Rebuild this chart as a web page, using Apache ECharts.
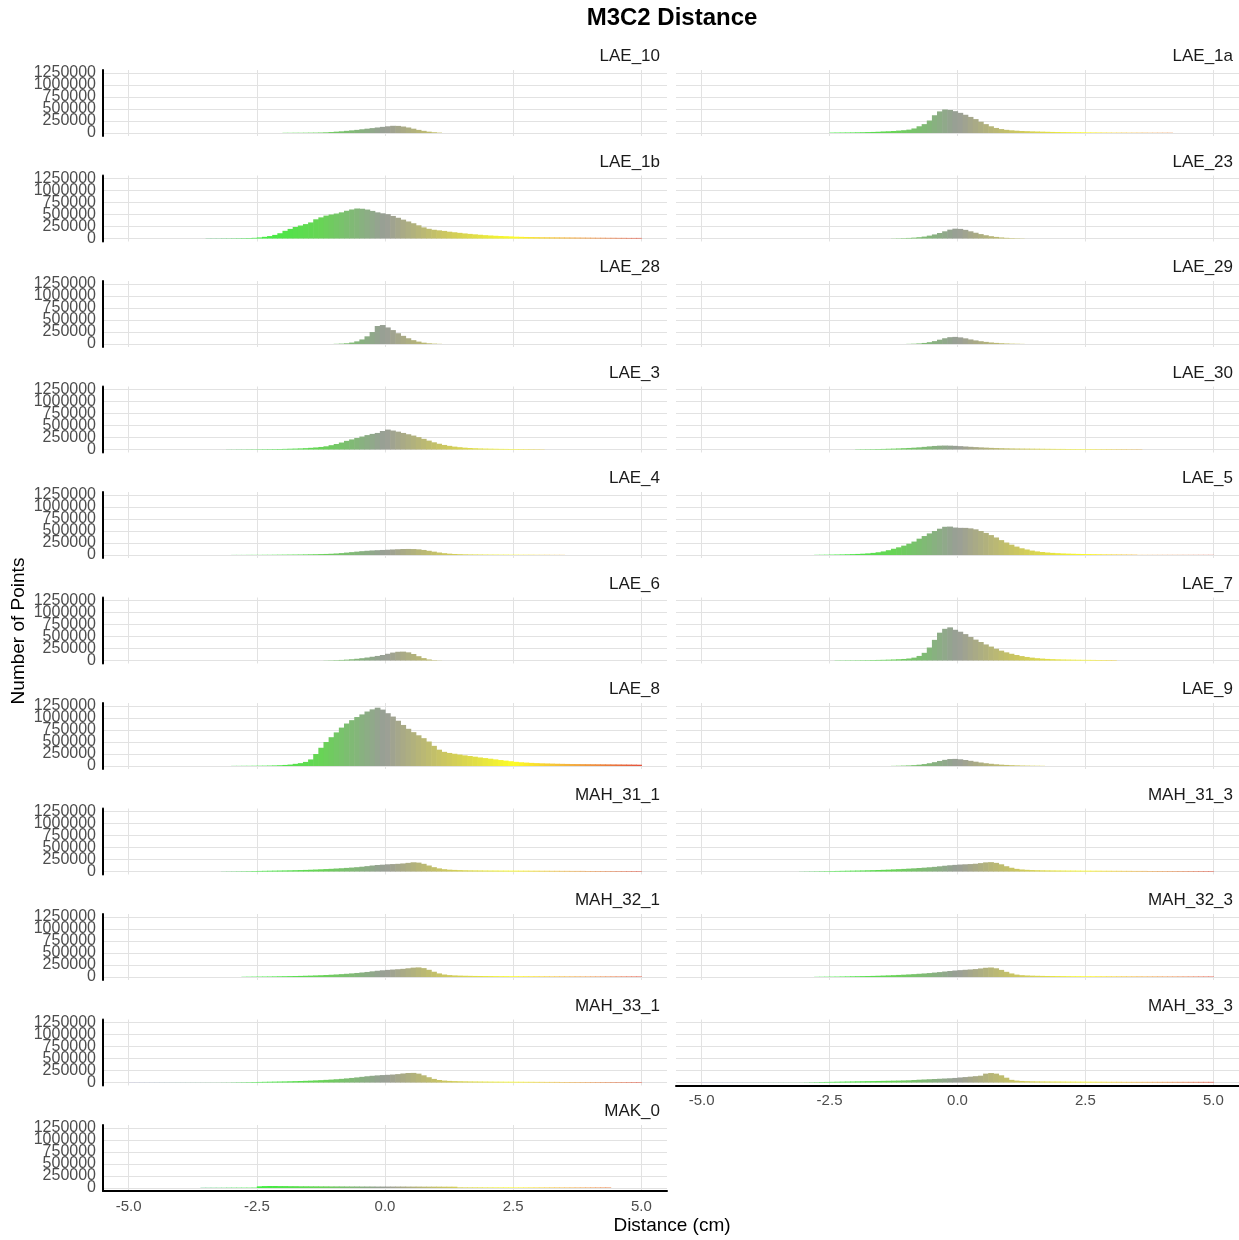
<!DOCTYPE html>
<html>
<head>
<meta charset="utf-8">
<script src="https://cdn.jsdelivr.net/npm/echarts@6/dist/echarts.min.js"></script>
<style>
  html, body { margin: 0; padding: 0; background: #ffffff; }
  #chart { width: 1239px; height: 1240px; }
</style>
</head>
<body>
<div id="chart"></div>
<script>
// Facet names, in panel order (two columns, filled row by row)
const panelNames = [
  'LAE_10', 'LAE_1a', 'LAE_1b', 'LAE_23', 'LAE_28', 'LAE_29', 'LAE_3', 'LAE_30',
  'LAE_4', 'LAE_5', 'LAE_6', 'LAE_7', 'LAE_8', 'LAE_9', 'MAH_31_1', 'MAH_31_3',
  'MAH_32_1', 'MAH_32_3', 'MAH_33_1', 'MAH_33_3', 'MAK_0'
];

// Left edge (cm) of the first bin of each panel; bins are 0.1 cm wide
const binStarts = [
  -2.0, -2.5, -3.5, -1.3, -1.0, -1.0, -3.1, -2.0,
  -3.0, -2.8, -1.2, -2.4, -3.0, -1.3, -3.2, -3.1,
  -2.8, -2.8, -5.0, -5.0, -3.6
];
const BIN_WIDTH = 0.1;

// Point counts per bin
const LAE_10 = [4000,4000,5000,5000,6000,7000,8000,10000,14000,20000,
  28000,35000,45000,55000,65000,78000,90000,102000,115000,128000,
  140000,150000,148000,135000,115000,90000,65000,45000,28000,16000,
  8000];
const LAE_1a = [8000,9000,10000,11000,12000,14000,16000,19000,22000,26000,
  32000,36000,42000,50000,58000,70000,95000,140000,185000,260000,
  370000,450000,490000,480000,455000,420000,380000,335000,290000,235000,
  185000,140000,105000,82000,66000,56000,48000,42000,38000,34000,
  31000,28000,25000,22000,20000,18000,17000,16000,15000,14000,
  12000,11000,10000,9000,8000,7000,7000,7000,6000,6000,
  6000,6000,5000,5000,5000,5000,5000];
const LAE_1b = [5000,5000,5000,6000,6000,7000,8000,9000,11000,14000,
  22000,35000,50000,75000,110000,160000,200000,240000,270000,300000,
  335000,400000,440000,477000,500000,520000,545000,578000,605000,625000,
  620000,603000,575000,545000,525000,508000,470000,432000,393000,355000,
  318000,275000,232000,202000,182000,170000,158000,142000,130000,118000,
  106000,96000,87000,78000,70000,63000,57000,52000,48000,44000,
  38000,35000,32000,30000,28000,26000,25000,24000,23000,22000,
  21000,20000,19000,18000,17000,16000,15000,15000,14000,14000,
  13000,13000,12000,12000,12000];
const LAE_23 = [3000,5000,8000,12000,18000,27000,40000,60000,85000,115000,
  150000,185000,205000,200000,180000,150000,120000,92000,68000,48000,
  33000,22000,14000,9000,6000,4000];
const LAE_28 = [4000,8000,15000,30000,55000,95000,160000,250000,375000,395000,
  345000,290000,225000,170000,120000,80000,50000,28000,15000,8000,
  4000];
const LAE_29 = [3000,6000,12000,22000,38000,60000,90000,120000,142000,148000,
  138000,118000,95000,75000,58000,44000,32000,23000,16000,11000,
  7000,5000,3000];
const LAE_3 = [3000,3000,4000,4000,5000,5000,6000,7000,8000,9000,
  11000,13000,16000,19000,23000,28000,35000,43000,53000,67000,
  90000,115000,145000,180000,210000,240000,270000,300000,325000,345000,
  385000,415000,395000,372000,345000,318000,290000,258000,222000,185000,
  150000,120000,95000,76000,60000,48000,38000,31000,26000,22000,
  19000,17000,15000,13000,12000,11000,10000,9000,8000,7000,
  6000,5000];
const LAE_30 = [5000,6000,7000,8000,10000,12000,15000,18000,22000,27000,
  32000,38000,45000,55000,65000,74000,80000,82000,80000,76000,
  70000,63000,56000,50000,44000,39000,34000,30000,27000,24000,
  22000,20000,19000,18000,17000,16000,15000,14000,13000,12000,
  12000,11000,11000,10000,10000,9000,9000,8000,8000,8000,
  7000,7000,7000,6000,6000,6000];
const LAE_4 = [2000,2000,2000,3000,3000,3000,4000,4000,5000,6000,
  7000,8000,9000,10000,12000,14000,16000,19000,22000,26000,
  32000,40000,50000,60000,70000,80000,88000,95000,100000,105000,
  110000,115000,120000,125000,126000,124000,118000,105000,88000,70000,
  52000,38000,28000,21000,17000,14000,12000,11000,10000,9000,
  8000,8000,7000,7000,6000,6000,5000,5000,5000,4000,
  4000,4000,3000,3000,3000];
const LAE_5 = [4000,5000,6000,8000,10000,12000,15000,18000,22000,27000,
  34000,44000,57000,75000,100000,130000,160000,195000,235000,280000,
  340000,395000,450000,500000,548000,588000,592000,572000,566000,565000,
  555000,535000,500000,460000,415000,365000,310000,260000,215000,175000,
  140000,115000,92000,75000,62000,52000,44000,38000,33000,29000,
  26000,23000,21000,19000,17000,15000,13000,12000,11000,10000,
  9000,8000,7000,3000,3000,3000,3000,3000,3000,3000,
  3000,3000,3000,3000,3000,3000,3000,3000];
const LAE_6 = [3000,5000,8000,12000,18000,26000,36000,48000,62000,78000,
  95000,115000,140000,165000,182000,185000,170000,135000,90000,50000,
  22000,8000,3000];
const LAE_7 = [4000,4000,5000,5000,6000,7000,8000,10000,12000,14000,
  17000,21000,26000,32000,42000,60000,95000,160000,270000,430000,
  580000,660000,690000,640000,600000,550000,490000,435000,385000,335000,
  290000,245000,205000,170000,140000,115000,92000,74000,60000,48000,
  40000,33000,28000,24000,21000,19000,17000,15000,14000,13000,
  12000,11000,10000,9000,8000];
const LAE_8 = [3000,3000,4000,4000,5000,6000,7000,9000,12000,16000,
  22000,30000,45000,60000,85000,137000,250000,380000,500000,600000,
  700000,800000,885000,955000,1020000,1075000,1135000,1180000,1215000,1175000,
  1100000,1030000,943000,855000,775000,705000,640000,580000,510000,420000,
  340000,295000,272000,255000,238000,222000,208000,194000,178000,165000,
  152000,138000,124000,112000,100000,87000,78000,71000,65000,60000,
  56000,53000,50000,47000,45000,43000,41000,40000,39000,38000,
  37000,36000,35000,34000,33000,32000,31000,30000,29000,27000];
const LAE_9 = [3000,5000,8000,12000,18000,27000,40000,58000,80000,105000,
  128000,145000,148000,140000,125000,108000,90000,73000,58000,46000,
  36000,28000,22000,17000,13000,10000,8000,6000,5000,4000];
const MAH_31_1 = [3000,4000,5000,6000,7000,8000,10000,12000,14000,16000,
  18000,20000,22000,24000,27000,30000,33000,37000,41000,46000,
  51000,56000,62000,68000,75000,82000,90000,100000,112000,125000,
  135000,142000,150000,155000,160000,168000,180000,192000,185000,160000,
  125000,90000,65000,48000,38000,33000,29000,26000,24000,23000,
  22000,21000,20000,20000,19000,19000,18000,18000,17000,17000,
  16000,16000,15000,15000,14000,14000,13000,13000,12000,12000,
  12000,11000,11000,11000,10000,10000,10000,10000,10000,10000,
  10000,10000];
const MAH_31_3 = [3000,4000,5000,6000,7000,8000,10000,12000,14000,16000,
  18000,20000,22000,25000,28000,31000,35000,39000,44000,49000,
  54000,60000,66000,73000,80000,88000,97000,108000,120000,130000,
  138000,145000,150000,155000,162000,175000,190000,195000,180000,150000,
  110000,78000,55000,42000,35000,30000,27000,25000,23000,22000,
  21000,20000,19000,19000,18000,17000,17000,16000,16000,15000,
  15000,14000,14000,13000,13000,12000,12000,12000,11000,11000,
  11000,10000,10000,10000,10000,10000,10000,10000,10000,10000,
  10000];
const MAH_32_1 = [5000,6000,7000,8000,9000,10000,12000,14000,16000,18000,
  20000,23000,26000,29000,33000,37000,42000,47000,53000,60000,
  67000,75000,84000,94000,105000,118000,130000,140000,148000,155000,
  162000,170000,182000,195000,200000,185000,150000,110000,75000,52000,
  40000,33000,29000,26000,24000,22000,21000,20000,19000,18000,
  17000,17000,16000,16000,15000,15000,14000,14000,13000,13000,
  12000,12000,12000,11000,11000,11000,10000,10000,10000,10000,
  10000,10000,10000,10000,10000,10000,10000,10000];
const MAH_32_3 = [4000,5000,6000,7000,8000,10000,12000,14000,16000,18000,
  20000,23000,26000,30000,34000,38000,43000,48000,54000,60000,
  67000,74000,82000,92000,102000,114000,125000,135000,143000,150000,
  157000,165000,178000,192000,198000,182000,148000,108000,74000,50000,
  38000,32000,28000,25000,23000,21000,20000,19000,18000,17000,
  16000,16000,15000,15000,14000,14000,13000,13000,12000,12000,
  12000,11000,11000,11000,10000,10000,10000,10000,9000,9000,
  9000,9000,9000,9000,9000,9000,9000,9000];
const MAH_33_1 = [2000,2000,2000,2000,2000,2000,2000,2000,2000,2000,
  2000,2000,2000,2000,2000,2000,2000,2000,3000,3000,
  5000,6000,7000,8000,10000,12000,14000,16000,18000,20000,
  22000,25000,28000,31000,35000,39000,44000,49000,55000,61000,
  68000,76000,85000,95000,106000,118000,130000,140000,148000,155000,
  160000,166000,175000,188000,198000,200000,185000,150000,110000,75000,
  52000,40000,33000,29000,26000,24000,22000,21000,20000,19000,
  18000,17000,17000,16000,16000,15000,15000,14000,14000,13000,
  13000,12000,12000,12000,11000,11000,11000,10000,10000,10000,
  10000,10000,10000,10000,10000,10000,10000,10000,10000,10000];
const MAH_33_3 = [2000,2000,2000,2000,2000,2000,2000,2000,2000,2000,
  2000,2000,2000,2000,2000,2000,2000,2000,2000,2000,
  4000,6000,8000,10000,12000,14000,16000,18000,20000,22000,
  24000,26000,28000,30000,32000,34000,36000,38000,40000,43000,
  46000,52000,58000,63000,68000,73000,78000,83000,88000,95000,
  105000,113000,122000,132000,142000,185000,197000,185000,150000,100000,
  55000,40000,32000,28000,25000,23000,22000,21000,20000,20000,
  19000,18000,18000,17000,17000,16000,16000,15000,15000,14000,
  14000,14000,13000,13000,13000,13000,13000,13000,13000,13000,
  13000,13000,13000,13000,13000,13000,13000,13000,13000,13000];
const MAK_0 = [6000,6000,6000,6000,6000,7000,7000,7000,7000,7000,
  8000,35000,40000,42000,42000,40000,40000,38000,38000,36000,
  36000,35000,35000,34000,34000,33000,33000,33000,32000,32000,
  32000,31000,31000,31000,30000,30000,30000,30000,30000,30000,
  29000,29000,29000,28000,28000,28000,28000,27000,27000,27000,
  14000,13000,13000,13000,13000,12000,12000,12000,12000,12000,
  12000,11000,11000,11000,11000,11000,11000,11000,11000,11000,
  10000,10000,10000,10000,10000,10000,10000,10000,10000,10000];

const panelCounts = [
  LAE_10, LAE_1a, LAE_1b, LAE_23, LAE_28, LAE_29, LAE_3, LAE_30,
  LAE_4, LAE_5, LAE_6, LAE_7, LAE_8, LAE_9, MAH_31_1, MAH_31_3,
  MAH_32_1, MAH_32_3, MAH_33_1, MAH_33_3, MAK_0
];

// Axis breaks
const xTickValues = [-5, -2.5, 0, 2.5, 5];
const yTickValues = [0, 250000, 500000, 750000, 1000000, 1250000];
// The count labels are packed tighter than their own height, so they are
// split over two stacked axes (alternate breaks) to keep every one visible.
const yLabelsEven = [0, 500000, 1000000];
const yLabelsOdd = [250000, 750000, 1250000];

// Fill gradient along the distance axis (blue -> green -> grey -> yellow -> red)
const colorStops = [-5, -2.5, -1.25, 0, 1.25, 2.5, 3.75, 5];
const stopColors = ['#8a8cf0', '#3ff03f', '#68d456', '#9a9e97', '#cfca5c', '#fdfd26', '#f2a640', '#e4503c'];

function hexToRgb(h) {
  return [parseInt(h.slice(1, 3), 16), parseInt(h.slice(3, 5), 16), parseInt(h.slice(5, 7), 16)];
}
const stopRgb = stopColors.map(hexToRgb);
function colorAt(x) {
  if (x <= colorStops[0]) return stopColors[0];
  for (let k = 0; k < colorStops.length - 1; k++) {
    const a = colorStops[k], b = colorStops[k + 1];
    if (x <= b) {
      const t = (x - a) / (b - a);
      const c = stopRgb[k].map((v, j) => Math.round(v + (stopRgb[k + 1][j] - v) * t));
      return 'rgb(' + c.join(',') + ')';
    }
  }
  return stopColors[stopColors.length - 1];
}

// Layout of the facet grid
const FONT = '"Liberation Sans", Arial, Helvetica, sans-serif';
const colLeft = [103, 676];
const panelW = 564, panelH = 66, top0 = 70, rowStep = 105.5;
const nPanels = panelNames.length;
const lastInCol = [nPanels - 1, nPanels - 2];
const Y_MIN = -62500, Y_MAX = 1312500;

const grids = [], xAxes = [], yAxes = [], labelAxes = [], series = [], titles = [];

function yLabelStyle(values) {
  return {
    show: true, customValues: values, margin: 7,
    showMinLabel: true, showMaxLabel: true,
    formatter: v => String(v),
    color: '#4d4d4d', fontSize: 16, fontFamily: FONT
  };
}

panelNames.forEach((name, i) => {
  const col = i % 2, row = Math.floor(i / 2);
  const top = top0 + row * rowStep;
  const isBottom = i === lastInCol[col];
  const isLeft = col === 0;

  grids.push({ left: colLeft[col], top: top, width: panelW, height: panelH });

  xAxes.push({
    gridIndex: i, type: 'value', min: -5.5, max: 5.5,
    axisLine: { show: isBottom, onZero: false, lineStyle: { color: '#000000', width: 2 } },
    axisTick: { show: false, customValues: xTickValues },
    axisLabel: {
      show: isBottom, customValues: xTickValues, margin: 8,
      showMinLabel: true, showMaxLabel: true,
      formatter: v => Number(v).toFixed(1),
      color: '#4d4d4d', fontSize: 15, fontFamily: FONT
    },
    splitLine: { show: true, lineStyle: { color: '#e2e2e2', width: 1 } }
  });

  const mainLabel = yLabelStyle(yLabelsEven);
  mainLabel.show = isLeft;
  yAxes.push({
    gridIndex: i, type: 'value', min: Y_MIN, max: Y_MAX, position: 'left',
    axisLine: { show: isLeft, onZero: false, lineStyle: { color: '#000000', width: 2 } },
    axisTick: { show: false, customValues: yTickValues },
    axisLabel: mainLabel,
    splitLine: { show: true, lineStyle: { color: '#e2e2e2', width: 1 } }
  });

  if (isLeft) {
    labelAxes.push({
      gridIndex: i, type: 'value', min: Y_MIN, max: Y_MAX, position: 'left', offset: 0,
      axisLine: { show: false, onZero: false },
      axisTick: { show: false },
      axisLabel: yLabelStyle(yLabelsOdd),
      splitLine: { show: false }
    });
  }

  const start = binStarts[i];
  const bins = panelCounts[i].map((n, k) => {
    const x0 = Math.round((start + k * BIN_WIDTH) * 100) / 100;
    const x1 = Math.round((x0 + BIN_WIDTH) * 100) / 100;
    return [x0, x1, n];
  });

  series.push({
    type: 'custom', name: name, xAxisIndex: i, yAxisIndex: i,
    data: bins, encode: { x: [0, 1], y: 2 }, silent: true,
    renderItem: (params, api) => {
      const x0 = api.value(0), x1 = api.value(1), n = api.value(2);
      const p0 = api.coord([x0, n]);
      const p1 = api.coord([x1, 0]);
      // a hair of overlap keeps neighbouring bins from leaving seams
      return {
        type: 'rect',
        shape: { x: p0[0], y: p0[1], width: p1[0] - p0[0] + 0.6, height: p1[1] - p0[1] },
        style: { fill: colorAt((x0 + x1) / 2) }
      };
    }
  });

  titles.push({
    text: name,
    right: 1239 - (colLeft[col] + panelW - 7),
    top: top - 22,
    padding: 0,
    textStyle: { fontSize: 17, fontWeight: 'normal', color: '#1a1a1a', fontFamily: FONT }
  });
});

const chart = echarts.init(document.getElementById('chart'), null, { renderer: 'canvas' });
chart.setOption({
  animation: false,
  backgroundColor: '#ffffff',
  title: titles,
  grid: grids,
  xAxis: xAxes,
  yAxis: yAxes.concat(labelAxes),
  series: series,
  graphic: [
    {
      type: 'text', x: 672, y: 18,
      style: { text: 'M3C2 Distance', fontSize: 24, fontWeight: 'bold', fill: '#000000',
               fontFamily: FONT, textAlign: 'center', textVerticalAlign: 'middle' }
    },
    {
      type: 'text', x: 672, y: 1226,
      style: { text: 'Distance (cm)', fontSize: 19, fill: '#000000',
               fontFamily: FONT, textAlign: 'center', textVerticalAlign: 'middle' }
    },
    {
      type: 'text', x: 19, y: 631, rotation: Math.PI / 2,
      style: { text: 'Number of Points', fontSize: 19, fill: '#000000',
               fontFamily: FONT, textAlign: 'center', textVerticalAlign: 'middle' }
    }
  ]
});
</script>
</body>
</html>
